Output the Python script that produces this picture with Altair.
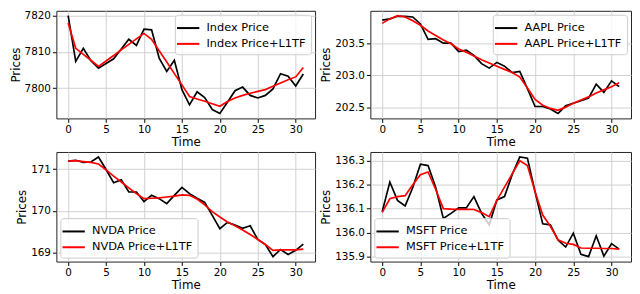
import altair as alt
import pandas as pd

time = list(range(32))

index_price = [7820.0, 7807.4, 7811.0, 7807.6, 7805.5, 7806.8, 7808.1, 7810.8, 7813.5, 7811.8,
               7816.3, 7816.1, 7808.3, 7804.6, 7807.7, 7799.6, 7795.4, 7799.0, 7797.4, 7794.1,
               7793.0, 7796.1, 7799.3, 7800.3, 7798.0, 7797.3, 7798.0, 7799.8, 7804.0, 7803.3,
               7800.6, 7803.9]
index_l1tf = [7818.0, 7811.0, 7809.3, 7807.7, 7806.0, 7807.5, 7809.0, 7810.6, 7812.1, 7813.6,
              7815.1, 7813.5, 7810.3, 7807.2, 7804.0, 7800.9, 7797.7, 7797.0, 7796.4, 7795.7,
              7795.0, 7796.3, 7797.3, 7798.0, 7798.6, 7799.1, 7799.6, 7800.5, 7801.4, 7802.3,
              7803.1, 7805.7]

aapl_price = [203.86, 203.88, 203.92, 203.92, 203.91, 203.80, 203.56, 203.57, 203.50, 203.50,
              203.37, 203.39, 203.31, 203.18, 203.11, 203.20, 203.14, 203.04, 203.06, 202.79,
              202.51, 202.51, 202.47, 202.40, 202.52, 202.56, 202.60, 202.64, 202.86, 202.73,
              202.91, 202.82]
aapl_l1tf = [203.81, 203.88, 203.93, 203.91, 203.85, 203.78, 203.69, 203.62, 203.55, 203.49,
             203.41, 203.36, 203.30, 203.24, 203.19, 203.14, 203.09, 203.04, 202.97, 202.80,
             202.62, 202.53, 202.48, 202.45, 202.50, 202.56, 202.61, 202.66, 202.72, 202.77,
             202.82, 202.88]

nvda_price = [171.19, 171.21, 171.16, 171.17, 171.29, 170.99, 170.67, 170.74, 170.45, 170.45,
              170.22, 170.37, 170.29, 170.17, 170.37, 170.56, 170.41, 170.30, 170.20, 169.89,
              169.57, 169.72, 169.66, 169.58, 169.64, 169.31, 169.19, 168.90, 169.07, 168.95,
              169.05, 169.20]
nvda_l1tf = [171.19, 171.20, 171.18, 171.16, 171.12, 170.98, 170.83, 170.69, 170.55, 170.41,
             170.29, 170.30, 170.31, 170.33, 170.35, 170.38, 170.37, 170.28, 170.14, 169.98,
             169.85, 169.73, 169.64, 169.54, 169.43, 169.31, 169.19, 169.05, 169.06, 169.06,
             169.06, 169.08]

msft_price = [136.087, 136.211, 136.134, 136.111, 136.188, 136.286, 136.280, 136.188, 136.059, 136.080,
              136.103, 136.103, 136.150, 136.080, 136.032, 136.136, 136.150, 136.242, 136.316, 136.311,
              136.170, 136.036, 136.032, 135.968, 135.939, 135.997, 135.909, 135.899, 135.986, 135.901,
              135.953, 135.930]
msft_l1tf = [136.084, 136.141, 136.150, 136.154, 136.200, 136.242, 136.253, 136.180, 136.100, 136.098,
             136.097, 136.097, 136.096, 136.083, 136.066, 136.134, 136.190, 136.245, 136.300, 136.280,
             136.170, 136.073, 136.026, 135.969, 135.955, 135.950, 135.935, 135.934, 135.934, 135.933,
             135.933, 135.930]

x_ticks = [0, 5, 10, 15, 20, 25, 30]

FONT = "DejaVu Sans"


def panel(name, price, l1tf, yticks, yfmt, legend_orient, width, height):
    s1 = f"{name} Price"
    s2 = f"{name} Price+L1TF"
    df = pd.DataFrame({
        "Time": time + time,
        "Prices": price + l1tf,
        "series": [s1] * len(time) + [s2] * len(time),
    })
    allv = price + l1tf
    lo, hi = min(allv), max(allv)
    pad = 0.05 * (hi - lo)
    return alt.Chart(df).mark_line(strokeWidth=1.7).encode(
        x=alt.X("Time:Q",
                scale=alt.Scale(domain=[-1.55, 32.55], nice=False, zero=False),
                axis=alt.Axis(values=x_ticks, title="Time", format="d")),
        y=alt.Y("Prices:Q",
                scale=alt.Scale(domain=[lo - pad, hi + pad], nice=False, zero=False),
                axis=alt.Axis(values=yticks, format=yfmt, title="Prices")),
        color=alt.Color("series:N",
                        scale=alt.Scale(domain=[s1, s2], range=["#000000", "#ff0000"]),
                        legend=alt.Legend(
                            title=None, orient=legend_orient, offset=4,
                            symbolType="M-1.6,0H1.6", symbolStrokeWidth=2, symbolSize=200,
                            symbolFillColor="transparent",
                            labelFont=FONT, labelFontSize=11.5, labelColor="#000",
                            fillColor="rgba(255,255,255,0.8)", strokeColor="#cccccc",
                            cornerRadius=3, padding=5, rowPadding=2, labelOffset=10)),
    ).properties(width=width, height=height)


p1 = panel("Index", index_price, index_l1tf, [7800, 7810, 7820], "d", "top-right", 262, 109)
p2 = panel("AAPL", aapl_price, aapl_l1tf, [202.5, 203.0, 203.5], ".1f", "top-right", 264, 109)
p3 = panel("NVDA", nvda_price, nvda_l1tf, [169, 170, 171], "d", "bottom-left", 262, 111)
p4 = panel("MSFT", msft_price, msft_l1tf, [135.9, 136.0, 136.1, 136.2, 136.3], ".1f", "bottom-left", 264, 111)

chart = alt.concat(p1, p2, p3, p4, columns=2, spacing=3).resolve_scale(
    x="independent", y="independent", color="independent"
).properties(
    padding=0
).configure_view(
    stroke="#222222", strokeWidth=1
).configure_axis(
    domain=False, grid=True, gridColor="#d0d0d0", gridWidth=1,
    tickColor="#000", tickSize=4, labelPadding=2, titlePadding=2,
    labelFont=FONT, labelFontSize=10.5, labelColor="#000",
    titleFont=FONT, titleFontSize=12, titleFontWeight="normal", titleColor="#000",
)

chart.save("out.html", embed_options={"renderer": "svg", "actions": False})
